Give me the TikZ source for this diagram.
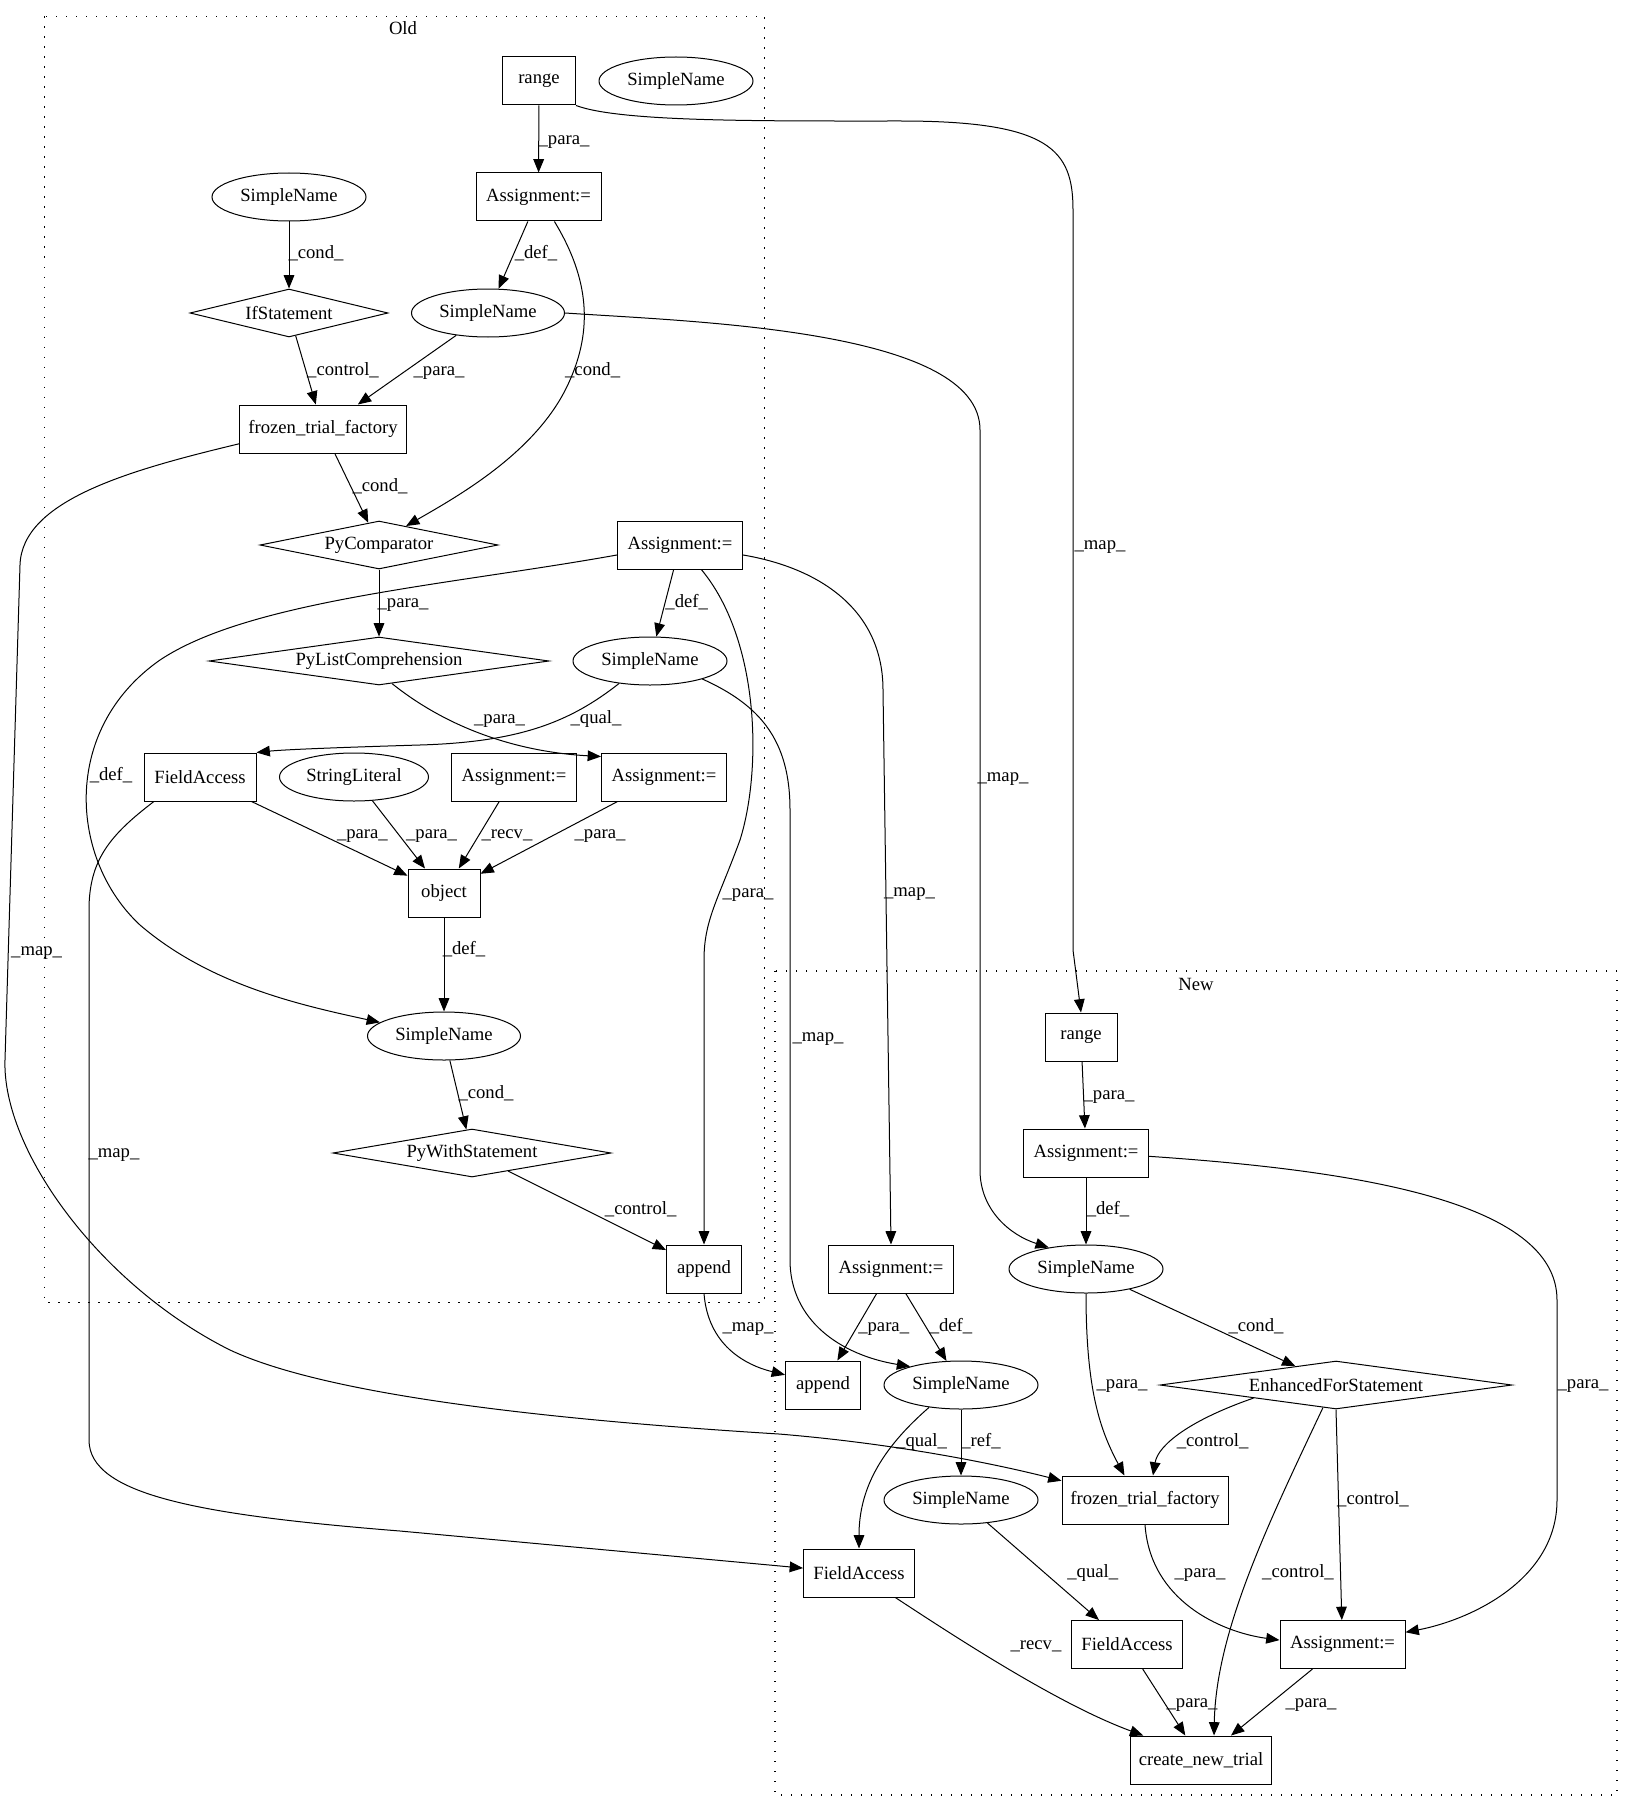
\documentclass[tikz,border=0pt]{standalone}
\usepackage{fontspec}
\setmainfont{Liberation Serif}
\usetikzlibrary{shapes.geometric,arrows.meta}
\begin{document}
\begin{tikzpicture}[x=0.75pt,y=-0.75pt,
  every node/.style={font=\fontsize{14}{16}\selectfont},
  mw/.code={\pgfmathsetlengthmacro\mywd{#1*0.75pt}\edef\next{\noexpand\pgfkeysalso{minimum width=\mywd}}\next},
  box/.style={draw, rectangle, inner sep=0pt, minimum height=36pt, line width=0.75pt},
  ell/.style={draw, ellipse, inner sep=0pt, minimum height=36pt, line width=0.75pt},
  dia/.style={draw, diamond, inner sep=0pt, minimum height=36pt, line width=0.75pt},
  e/.style={line width=0.75pt, -{Triangle[length=10pt,width=8pt]}},
  lbl/.style={inner sep=0pt, text height=10pt, text depth=3pt},
  clu/.style={line width=0.8pt, dash pattern=on 1pt off 6.5pt}
]
\useasboundingbox (0,0) rectangle (1634,1812);
% clusters
\draw[clu] (44.5,16.5) rectangle (764.6,1302.6);
\node[lbl] (cOld) at (403,30) {Old};
\draw[clu] (775,971) rectangle (1617,1795);
\node[lbl] (cNew) at (1196,986) {New};

% Old nodes
\node[box,mw=73] (rO) at (539,81) {range};
\node[ell,mw=154] (snTR) at (676,81) {SimpleName};
\node[ell,mw=154] (snL) at (289,197) {SimpleName};
\node[box,mw=125] (atO) at (538.5,197) {Assignment:=};
\node[dia,mw=198] (ifS) at (289,313) {\makebox[0pt]{IfStatement}};
\node[ell,mw=153] (snM) at (488,313) {SimpleName};
\node[box,mw=167] (frO) at (323,429) {frozen\_trial\_factory};
\node[dia,mw=238] (pc) at (379,545) {\makebox[0pt]{PyComparator}};
\node[box,mw=125] (amO) at (680,545) {Assignment:=};
\node[dia,mw=340] (plc) at (379,661) {\makebox[0pt]{PyListComprehension}};
\node[ell,mw=154] (snQ) at (650,661) {SimpleName};
\node[box,mw=112] (faO) at (200,777) {FieldAccess};
\node[ell,mw=149] (sl) at (354,777) {StringLiteral};
\node[box,mw=125] (arcv) at (514,777) {Assignment:=};
\node[box,mw=125] (arO) at (664,777) {Assignment:=};
\node[box,mw=72] (obj) at (444,893) {object};
\node[ell,mw=153] (snLo) at (444,1036) {SimpleName};
\node[dia,mw=278] (pw) at (472,1153) {\makebox[0pt]{PyWithStatement}};
\node[box,mw=75] (aO) at (704,1269) {append};

% New nodes
\node[box,mw=72] (rN) at (1081,1037) {range};
\node[box,mw=125] (anT) at (1086,1153) {Assignment:=};
\node[box,mw=125] (amN) at (891,1269) {Assignment:=};
\node[ell,mw=154] (snN) at (1086,1269) {SimpleName};
\node[box,mw=75] (aN) at (823,1385) {append};
\node[ell,mw=154] (snNM) at (961,1385) {SimpleName};
\node[dia,mw=352] (EF) at (1336,1385) {\makebox[0pt]{EnhancedForStatement}};
\node[ell,mw=154] (snNL) at (961,1500) {SimpleName};
\node[box,mw=166] (frN) at (1145,1500) {frozen\_trial\_factory};
\node[box,mw=111] (faN) at (859,1573) {FieldAccess};
\node[box,mw=111] (faM) at (1127,1644.5) {FieldAccess};
\node[box,mw=125] (anR) at (1342.5,1644.5) {Assignment:=};
\node[box,mw=141] (cr) at (1201,1760) {create\_new\_trial};

% Old straight edges
\draw[e] (rO) -- (atO);
\draw[e] (snL) -- (ifS);
\draw[e] (atO) -- (snM);
\draw[e] (ifS) -- (frO);
\draw[e] (snM) -- (frO);
\draw[e] (frO) -- (pc);
\draw[e] (pc) -- (plc);
\draw[e] (amO) -- (snQ);
\draw[e] (faO) -- (obj);
\draw[e] (sl) -- (obj);
\draw[e] (arcv) -- (obj);
\draw[e] (arO) -- (obj);
\draw[e] (obj) -- (snLo);
\draw[e] (snLo) -- (pw);
\draw[e] (pw) -- (aO);

% New straight edges
\draw[e] (rN) -- (anT);
\draw[e] (anT) -- (snN);
\draw[e] (amN) -- (aN);
\draw[e] (amN) -- (snNM);
\draw[e] (snN) -- (EF);
\draw[e] (snNM) -- (snNL);
\draw[e] (snNL) -- (faM);
\draw[e] (faM) -- (cr);
\draw[e] (anR) -- (cr);
\draw[e] (EF.south) -- (anR);

% curved edges
\draw[e] (rO.south east) .. controls (620,122) and (760,121) .. (900,121) .. controls (1050,121) and (1073,150) .. (1073,210) -- (1073,950) -- (rN.north);
\draw[e] (snM.east) .. controls (700,322) and (980,330) .. (980,430) -- (980,1170) .. controls (980,1210) and (1010,1235) .. (snN.150);
\draw[e] (frO.190) .. controls (130,470) and (22,500) .. (20,565) -- (5,1060) .. controls (2,1150) and (100,1285) .. (230,1350) .. controls (320,1392) and (520,1418) .. (779,1434) .. controls (900,1444) and (1000,1465) .. (frN.167);
\draw[e] (amO.189) .. controls (450,585) and (250,600) .. (160,660) .. controls (60,730) and (70,860) .. (140,925) .. controls (210,985) and (300,1005) .. (snLo.168);
\draw[e] (amO.-49) .. controls (760,640) and (762,770) .. (740,840) .. controls (718,900) and (704,920) .. (704,960) -- (aO.north);
\draw[e] (amO.-9) .. controls (820,568) and (883,610) .. (883,690) -- (amN.north);
\draw[e] (plc.-60) .. controls (450,730) and (520,752) .. (arO.162);
\draw[e] (snQ.216) .. controls (570,722) and (520,742) .. (420,745) .. controls (320,748) and (280,750) .. (faO.north east);
\draw[e] (snQ.-19) .. controls (760,705) and (790,740) .. (790,810) -- (790,1260) .. controls (790,1320) and (840,1355) .. (snNM.160);
\draw[e] (faO.-152) .. controls (110,835) and (89,860) .. (89,910) -- (89,1440) .. controls (89,1495) and (200,1515) .. (400,1531) -- (faN.175);
\draw[e] (aO.south) .. controls (708,1345) and (745,1365) .. (aN.165);
\draw[e] (atO.-57) .. controls (590,280) and (592,330) .. (570,380) .. controls (540,450) and (460,495) .. (pc.35);
\draw[e] (anT.-3) .. controls (1350,1170) and (1557,1200) .. (1557,1300) -- (1557,1500) .. controls (1557,1580) and (1470,1620) .. (anR.11);
\draw[e] (snN.south) .. controls (1086,1390) and (1100,1430) .. (frN.130);
\draw[e] (EF.189) .. controls (1190,1420) and (1158,1445) .. (frN.72);
\draw[e] (EF.240) .. controls (1270,1520) and (1216,1630) .. (cr.62);
\draw[e] (frN.south) .. controls (1150,1600) and (1220,1632) .. (anR.176);
\draw[e] (faN.-34) .. controls (960,1640) and (1060,1705) .. (cr.157);
\draw[e] (snNM.215) .. controls (880,1450) and (859,1490) .. (faN.north);

% labels
\node[lbl] (l1) at (564,140) {\_para\_};
\node[lbl] (l2) at (316,254) {\_cond\_};
\node[lbl] (l3) at (536,254) {\_def\_};
\node[lbl] (l4) at (343,370.5) {\_control\_};
\node[lbl] (l5) at (439,370.5) {\_para\_};
\node[lbl] (l6) at (592.6,370.5) {\_cond\_};
\node[lbl] (l7) at (380,486.6) {\_cond\_};
\node[lbl] (l8) at (403,602.6) {\_para\_};
\node[lbl] (l9) at (686.7,602.6) {\_def\_};
\node[lbl] (l10) at (499.5,719) {\_para\_};
\node[lbl] (l11) at (596,719) {\_qual\_};
\node[lbl] (l12) at (111,776) {\_def\_};
\node[lbl] (l13) at (362.4,834) {\_para\_};
\node[lbl] (l14) at (431.5,834) {\_para\_};
\node[lbl] (l15) at (507,834) {\_recv\_};
\node[lbl] (l16) at (600,834) {\_para\_};
\node[lbl] (l17) at (748,893) {\_para\_};
\node[lbl] (l18) at (36.6,951) {\_map\_};
\node[lbl] (l19) at (464,950) {\_def\_};
\node[lbl] (l20) at (486,1094) {\_cond\_};
\node[lbl] (l21) at (114,1153) {\_map\_};
\node[lbl] (l22) at (640.7,1210) {\_control\_};
\node[lbl] (l23) at (748,1327) {\_map\_};
\node[lbl] (l24) at (818,1037) {\_map\_};
\node[lbl] (l25) at (1100,545) {\_map\_};
\node[lbl] (l26) at (1003,776.5) {\_map\_};
\node[lbl] (l27) at (909.5,892) {\_map\_};
\node[lbl] (l28) at (1109,1094.6) {\_para\_};
\node[lbl] (l29) at (1108,1210) {\_def\_};
\node[lbl] (l30) at (883.7,1326.5) {\_para\_};
\node[lbl] (l31) at (951,1326.5) {\_def\_};
\node[lbl] (l32) at (1256,1326.5) {\_cond\_};
\node[lbl] (l33) at (1122,1384) {\_para\_};
\node[lbl] (l34) at (1583,1384) {\_para\_};
\node[lbl] (l35) at (921.6,1442) {\_qual\_};
\node[lbl] (l36) at (981,1442) {\_ref\_};
\node[lbl] (l37) at (1212.6,1442) {\_control\_};
\node[lbl] (l38) at (1373,1500) {\_control\_};
\node[lbl] (l39) at (1092.8,1573) {\_qual\_};
\node[lbl] (l40) at (1200,1573) {\_para\_};
\node[lbl] (l41) at (1298,1573) {\_control\_};
\node[lbl] (l42) at (1036,1645) {\_recv\_};
\node[lbl] (l43) at (1192,1703) {\_para\_};
\node[lbl] (l44) at (1311,1703) {\_para\_};
\end{tikzpicture}
\end{document}
